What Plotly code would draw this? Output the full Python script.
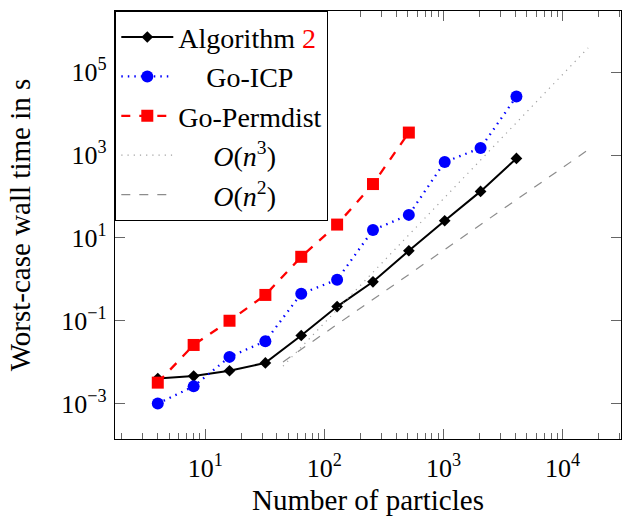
import plotly.graph_objects as go

n_particles = [4, 8, 16, 32, 64, 128, 256, 512, 1024, 2048, 4096]
alg2_time = [0.0040, 0.0046, 0.0062, 0.0096, 0.044, 0.22, 0.87, 4.9, 26, 133, 830]
goicp_time = [0.0010, 0.0026, 0.0134, 0.032, 0.45, 0.98, 15.5, 36, 680, 1480, 26000]
permdist_n = [4, 8, 16, 32, 64, 128, 256, 512]
permdist_time = [0.0032, 0.026, 0.10, 0.42, 3.5, 21, 200, 3500]
ref_n = [45, 16384]
on3_time = [0.0080, 3.9e5]
on2_time = [0.0101, 1340]

x_tickvals = [10, 100, 1000, 10000]
x_ticktext = ["10<sup>1</sup>", "10<sup>2</sup>", "10<sup>3</sup>", "10<sup>4</sup>"]
y_tickvals = [1e-3, 1e-1, 1e1, 1e3, 1e5]
y_ticktext = ["10<sup>\u22123</sup>", "10<sup>\u22121</sup>", "10<sup>1</sup>", "10<sup>3</sup>", "10<sup>5</sup>"]

FONT = "Liberation Serif, Times New Roman, serif"
NB = "\u00a0"

fig = go.Figure()
fig.add_trace(go.Scatter(
    x=n_particles, y=alg2_time, mode="lines+markers",
    name='Algorithm <span style="color:red">2</span>',
    line=dict(color="black", width=2),
    marker=dict(symbol="diamond", size=9, color="black")))
fig.add_trace(go.Scatter(
    x=n_particles, y=goicp_time, mode="lines+markers",
    name=NB * 4 + "Go-ICP",
    line=dict(color="#0000ff", width=2.3, dash="1.5px,5px"),
    marker=dict(symbol="circle", size=12, color="#0000ff")))
fig.add_trace(go.Scatter(
    x=permdist_n, y=permdist_time, mode="lines+markers",
    name="Go-Permdist",
    line=dict(color="#ff0000", width=2.3, dash="9px,9px"),
    marker=dict(symbol="square", size=12, color="#ff0000")))
fig.add_trace(go.Scatter(
    x=ref_n, y=on3_time, mode="lines",
    name=NB * 5 + "<i>O</i>(<i>n</i><sup>3</sup>)",
    line=dict(color="#a0a0a0", width=1.2, dash="1.2px,5px")))
fig.add_trace(go.Scatter(
    x=ref_n, y=on2_time, mode="lines",
    name=NB * 5 + "<i>O</i>(<i>n</i><sup>2</sup>)",
    line=dict(color="#8c8c8c", width=1.2, dash="9px,9px")))

fig.update_layout(
    width=626, height=516,
    margin=dict(l=115, r=4, t=11, b=74),
    paper_bgcolor="white", plot_bgcolor="white",
    font=dict(family=FONT, size=26, color="black"),
    showlegend=True,
    legend=dict(x=0, y=1, xanchor="left", yanchor="top",
                bgcolor="white", bordercolor="black", borderwidth=1.3,
                font=dict(family=FONT, size=28, color="black"),
                itemwidth=52, tracegroupgap=0),
)
fig.update_xaxes(
    type="log", range=[0.243, 4.49],
    showgrid=False, zeroline=False,
    showline=True, linecolor="black", linewidth=1.3, mirror="ticks",
    ticks="inside", ticklen=10, tickwidth=1, tickcolor="#666666",
    tickvals=x_tickvals, ticktext=x_ticktext,
    tickfont=dict(family=FONT, size=26), ticklabelstandoff=6,
    minor=dict(ticks="inside", ticklen=6, tickwidth=1, tickcolor="#666666",
               tickvals=[m * 10 ** e for e in range(0, 5) for m in range(2, 10)]),
    title=dict(text="Number of particles", font=dict(family=FONT, size=29), standoff=8),
)
fig.update_yaxes(
    type="log", range=[-3.856, 6.48],
    showgrid=False, zeroline=False,
    showline=True, linecolor="black", linewidth=1.3, mirror="ticks",
    ticks="inside", ticklen=10, tickwidth=1, tickcolor="#666666",
    tickvals=y_tickvals, ticktext=y_ticktext,
    tickfont=dict(family=FONT, size=26), ticklabelstandoff=2,
    title=dict(text="Worst-case wall time in s", font=dict(family=FONT, size=29), standoff=22),
)

fig.write_html("out.html")
